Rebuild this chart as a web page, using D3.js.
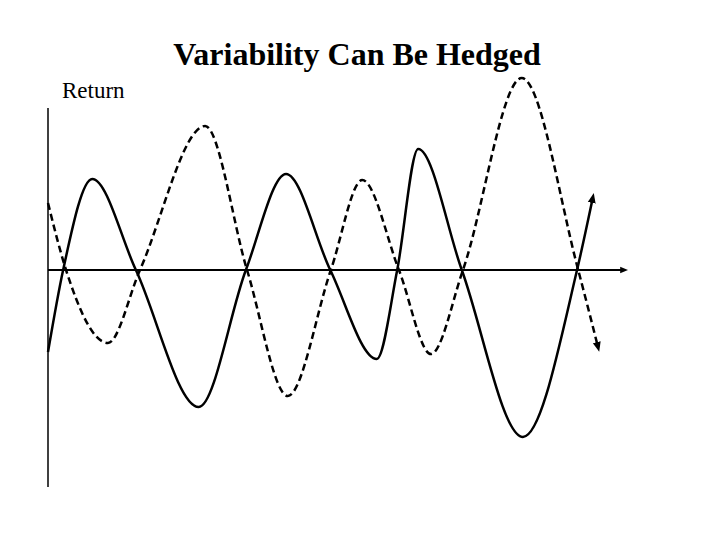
<!DOCTYPE html>
<html>
<head>
<meta charset="utf-8">
<script src="https://cdn.jsdelivr.net/npm/d3@7"></script>
<style>
  body { margin: 0; background: #fff; }
</style>
</head>
<body>
<div id="chart"></div>
<script>
// time positions (0..100) and returns for the two series
var solidT = [0, 2.6, 7.6, 15.1, 25.9, 34.0, 40.9, 48.5, 56.5, 60.0, 63.6, 71.1, 81.6, 90.9, 93.6];
var solidV = [-0.82, 0, 0.91, 0, -1.37, 0, 0.96, 0, -0.89, 0, 1.21, 0, -1.67, 0, 0.72];

var dashT = [0, 3.1, 10.3, 15.8, 27.0, 34.2, 41.2, 48.6, 54.0, 60.3, 65.8, 71.3, 81.4, 91.1, 94.5];
var dashV = [0.67, 0, -0.73, 0, 1.44, 0, -1.26, 0, 0.90, 0, -0.84, 0, 1.92, 0, -0.77];

var title = "Variability Can Be Hedged";
var yLabel = "Return";

var width = 720, height = 540;

var svg = d3.select("#chart")
  .append("svg")
  .attr("width", width)
  .attr("height", height);

// arrow marker
svg.append("defs").append("marker")
  .attr("id", "arrow")
  .attr("viewBox", "0 0 10 10")
  .attr("refX", 5).attr("refY", 5)
  .attr("markerWidth", 4).attr("markerHeight", 4)
  .attr("markerUnits", "strokeWidth")
  .attr("orient", "auto")
  .append("path")
  .attr("d", "M0,1 L10,5 L0,9 Z")
  .attr("fill", "#000");

var x = d3.scaleLinear().domain([0, 100]).range([48, 630]);
var y = d3.scaleLinear().domain([-2.17, 1.62]).range([487, 108]);

// title and label
svg.append("text")
  .attr("x", 357).attr("y", 65)
  .attr("text-anchor", "middle")
  .style("font-family", "'Liberation Serif', 'Times New Roman', serif")
  .style("font-weight", "bold")
  .style("font-size", "32px")
  .text(title);

svg.append("text")
  .attr("x", 62).attr("y", 98)
  .style("font-family", "'Liberation Serif', 'Times New Roman', serif")
  .style("font-size", "23px")
  .text(yLabel);

// axes
svg.append("line")
  .attr("x1", x(0)).attr("x2", x(0))
  .attr("y1", y(1.62)).attr("y2", y(-2.17))
  .attr("stroke", "#000").attr("stroke-width", 1.5);

svg.append("line")
  .attr("x1", x(0)).attr("x2", x(99))
  .attr("y1", y(0)).attr("y2", y(0))
  .attr("stroke", "#000").attr("stroke-width", 2)
  .attr("marker-end", "url(#arrow)");

var line = d3.line()
  .x(function(d) { return x(d[0]); })
  .y(function(d) { return y(d[1]); })
  .curve(d3.curveMonotoneX);

svg.append("path")
  .datum(d3.zip(solidT, solidV))
  .attr("d", line)
  .attr("fill", "none")
  .attr("stroke", "#000")
  .attr("stroke-width", 2.5)
  .attr("marker-end", "url(#arrow)");

svg.append("path")
  .datum(d3.zip(dashT, dashV))
  .attr("d", line)
  .attr("fill", "none")
  .attr("stroke", "#000")
  .attr("stroke-width", 2.5)
  .attr("stroke-dasharray", "7,4")
  .attr("marker-end", "url(#arrow)");
</script>
</body>
</html>
